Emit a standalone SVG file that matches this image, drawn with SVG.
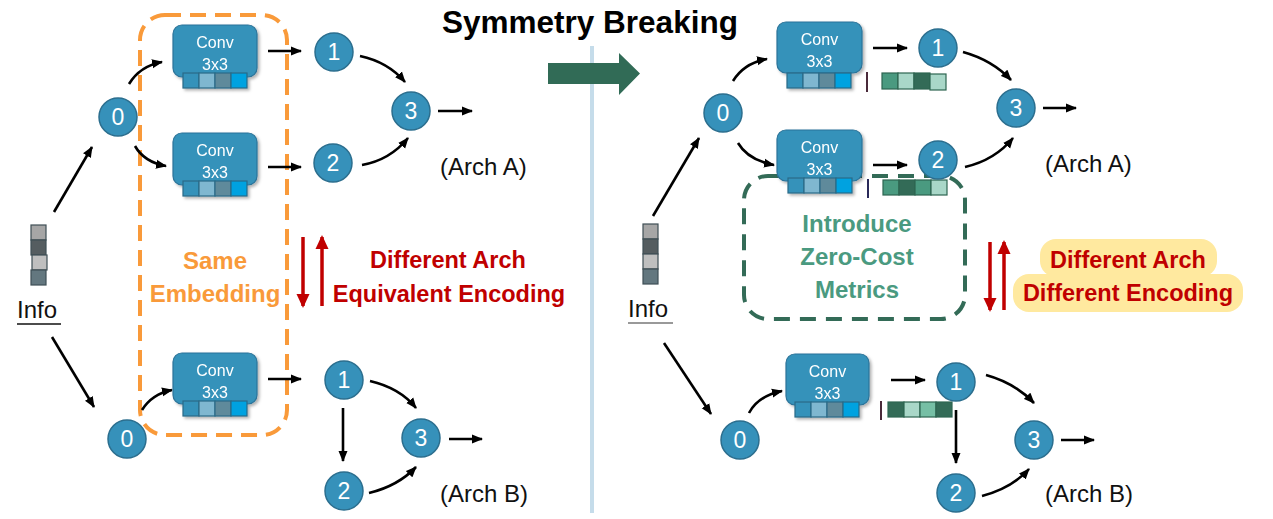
<svg xmlns="http://www.w3.org/2000/svg" width="1273" height="519" viewBox="0 0 1273 519">
<defs>
<style>
.nd{fill:#3691BA;stroke:#2B6E8E;stroke-width:1.5}
.nt{font-family:"Liberation Sans",Arial,sans-serif;font-size:23px;fill:#fff;text-anchor:middle}
.cv{fill:#3592BA;stroke:#2B7399;stroke-width:1.2}
.ct{font-family:"Liberation Sans",Arial,sans-serif;font-size:16px;fill:#fff;text-anchor:middle}
.cell{stroke:#2A6A88;stroke-width:1.2}
.gcell{stroke:#2E6550;stroke-width:1.2}
.icell{stroke:#3F4F55;stroke-width:1.2}
.con{fill:none;stroke:#000;stroke-width:2.6}
.red{fill:none;stroke:#C00000;stroke-width:3.5}
.lbl{font-family:"Liberation Sans",Arial,sans-serif;font-size:24px;fill:#111}
.bold{font-family:"Liberation Sans",Arial,sans-serif;font-weight:bold}
</style>
<marker id="ah" markerUnits="userSpaceOnUse" markerWidth="12" markerHeight="10" refX="10" refY="5" orient="auto">
<path d="M0,0.5 L11,5 L0,9.5 z" fill="#000"/>
</marker>
<marker id="rh" markerUnits="userSpaceOnUse" markerWidth="14" markerHeight="14" refX="12" refY="7" orient="auto">
<path d="M0,0.5 L14,7 L0,13.5 z" fill="#C00000"/>
</marker>
<filter id="sh" x="-20%" y="-20%" width="150%" height="150%">
<feDropShadow dx="2" dy="2" stdDeviation="1.5" flood-color="#000" flood-opacity="0.3"/>
</filter>
</defs>
<rect width="1273" height="519" fill="#fff"/>

<!-- title, divider, big arrow -->
<text x="442" y="33" class="bold" font-size="31.5" fill="#000">Symmetry Breaking</text>
<line x1="592" y1="46" x2="592" y2="513" stroke="#C5DCEA" stroke-width="4"/>
<polygon points="548,63 619,63 619,53 640,73.5 619,95 619,84 548,84" fill="#316B56"/>

<!-- dashed group boxes -->
<rect id="same-embedding-box" x="140" y="15" width="147" height="420" rx="25" fill="none" stroke="#F99A3A" stroke-width="4" stroke-dasharray="16 9"/>
<rect id="zero-cost-box" x="744" y="176" width="221" height="143" rx="24" fill="none" stroke="#336B57" stroke-width="4" stroke-dasharray="16 10"/>

<!-- yellow highlight -->
<rect x="1040" y="239" width="177" height="38" rx="16" fill="#FFE99F"/>
<rect x="1013" y="274" width="230" height="38" rx="16" fill="#FFE99F"/>

<!-- connectors -->
<g id="connectors">
<g class="con" marker-end="url(#ah)">
<line x1="54" y1="212" x2="92" y2="147"/>
<line x1="52" y1="337" x2="94" y2="407"/>
<path d="M129,84 Q140,66 162,62"/>
<path d="M135,146 Q144,162 166,166"/>
<line x1="268" y1="51" x2="301" y2="51"/>
<line x1="268" y1="167" x2="301" y2="167"/>
<path d="M360,56 Q388,62 405,82"/>
<path d="M362,165 Q390,160 408,138"/>
<line x1="438" y1="111" x2="472" y2="111"/>
<path d="M142,410 Q152,394 172,390"/>
<line x1="268" y1="379" x2="301" y2="379"/>
<line x1="343" y1="408" x2="343" y2="461"/>
<path d="M370,381 Q400,388 416,408"/>
<path d="M369,493 Q398,486 416,467"/>
<line x1="449" y1="439" x2="482" y2="439"/>

<line x1="653" y1="216" x2="699" y2="138"/>
<line x1="664" y1="343" x2="711" y2="414"/>
<path d="M733,81 Q744,63 767,59"/>
<path d="M738,143 Q748,160 774,165"/>
<line x1="873" y1="48" x2="907" y2="48"/>
<line x1="873" y1="165" x2="907" y2="165"/>
<path d="M963,52 Q992,60 1011,80"/>
<path d="M965,167 Q995,160 1013,138"/>
<line x1="1043" y1="108" x2="1076" y2="108"/>
<path d="M749,413 Q758,396 782,391"/>
<line x1="891" y1="380" x2="925" y2="380"/>
<line x1="956" y1="410" x2="956" y2="463"/>
<path d="M986,375 Q1015,383 1034,403"/>
<path d="M982,496 Q1012,488 1029,469"/>
<line x1="1061" y1="440" x2="1094" y2="440"/>
</g>
<g class="red" marker-end="url(#rh)">
<line x1="303" y1="237" x2="303" y2="306"/>
<line x1="322" y1="306" x2="322" y2="237"/>
<line x1="990" y1="242" x2="990" y2="310"/>
<line x1="1004" y1="310" x2="1004" y2="242"/>
</g>
</g>

<!-- Info left -->
<g id="info-left">
<rect class="icell" x="31" y="225" width="15" height="15" fill="#A6A6A6"/>
<rect class="icell" x="31" y="240" width="15" height="15" fill="#555D60"/>
<rect class="icell" x="32" y="255" width="15" height="15" fill="#BFBFBF"/>
<rect class="icell" x="31" y="270" width="15" height="15" fill="#63777F"/>
<text x="17" y="318" class="lbl" font-size="25">Info</text>
<line x1="17" y1="324" x2="61" y2="324" stroke="#111" stroke-width="1.5"/>
</g>
<g id="info-right">
<rect class="icell" x="643" y="224" width="15" height="15" fill="#A6A6A6"/>
<rect class="icell" x="643" y="239" width="15" height="15" fill="#555D60"/>
<rect class="icell" x="643" y="254" width="15" height="15" fill="#BFBFBF"/>
<rect class="icell" x="643" y="269" width="15" height="15" fill="#63777F"/>
<text x="628" y="317" class="lbl" font-size="25">Info</text>
<line x1="628" y1="323" x2="673" y2="323" stroke="#777" stroke-width="1.5"/>
</g>

<!-- Conv boxes left -->
<g id="convA1-left" filter="url(#sh)">
<rect class="cv" x="173" y="25" width="84" height="52" rx="9"/>
<text class="ct" x="215" y="48">Conv</text><text class="ct" x="215" y="70">3x3</text>
<rect class="cell" x="183" y="73" width="16" height="15" fill="#3592BA"/>
<rect class="cell" x="199" y="73" width="16" height="15" fill="#7FB7D0"/>
<rect class="cell" x="215" y="73" width="16" height="15" fill="#5F8A9B"/>
<rect class="cell" x="231" y="73" width="16" height="15" fill="#00A2E0"/>
</g>
<g id="convA2-left" filter="url(#sh)">
<rect class="cv" x="173" y="133" width="84" height="52" rx="9"/>
<text class="ct" x="215" y="156">Conv</text><text class="ct" x="215" y="178">3x3</text>
<rect class="cell" x="183" y="181" width="16" height="15" fill="#3592BA"/>
<rect class="cell" x="199" y="181" width="16" height="15" fill="#7FB7D0"/>
<rect class="cell" x="215" y="181" width="16" height="15" fill="#5F8A9B"/>
<rect class="cell" x="231" y="181" width="16" height="15" fill="#00A2E0"/>
</g>
<g id="convB-left" filter="url(#sh)">
<rect class="cv" x="173" y="353" width="84" height="51" rx="9"/>
<text class="ct" x="215" y="376">Conv</text><text class="ct" x="215" y="398">3x3</text>
<rect class="cell" x="183" y="401" width="16" height="15" fill="#3592BA"/>
<rect class="cell" x="199" y="401" width="16" height="15" fill="#7FB7D0"/>
<rect class="cell" x="215" y="401" width="16" height="15" fill="#5F8A9B"/>
<rect class="cell" x="231" y="401" width="16" height="15" fill="#00A2E0"/>
</g>

<!-- Conv boxes right -->
<g id="convA1-right" filter="url(#sh)">
<rect class="cv" x="777" y="22" width="85" height="51" rx="9"/>
<text class="ct" x="819.5" y="45">Conv</text><text class="ct" x="819.5" y="67">3x3</text>
<rect class="cell" x="787" y="73" width="16" height="15" fill="#3592BA"/>
<rect class="cell" x="803" y="73" width="16" height="15" fill="#7FB7D0"/>
<rect class="cell" x="819" y="73" width="16" height="15" fill="#5F8A9B"/>
<rect class="cell" x="835" y="73" width="16" height="15" fill="#00A2E0"/>
</g>
<g id="convA2-right" filter="url(#sh)">
<rect class="cv" x="777" y="130" width="85" height="51" rx="9"/>
<text class="ct" x="819.5" y="153">Conv</text><text class="ct" x="819.5" y="175">3x3</text>
<rect class="cell" x="788" y="178" width="16" height="15" fill="#3592BA"/>
<rect class="cell" x="804" y="178" width="16" height="15" fill="#7FB7D0"/>
<rect class="cell" x="820" y="178" width="16" height="15" fill="#5F8A9B"/>
<rect class="cell" x="836" y="178" width="16" height="15" fill="#00A2E0"/>
</g>
<g id="convB-right" filter="url(#sh)">
<rect class="cv" x="786" y="354" width="83" height="51" rx="9"/>
<text class="ct" x="827.5" y="377">Conv</text><text class="ct" x="827.5" y="399">3x3</text>
<rect class="cell" x="795" y="402" width="16" height="15" fill="#3592BA"/>
<rect class="cell" x="811" y="402" width="16" height="15" fill="#7FB7D0"/>
<rect class="cell" x="827" y="402" width="16" height="15" fill="#5F8A9B"/>
<rect class="cell" x="843" y="402" width="16" height="15" fill="#00A2E0"/>
</g>

<!-- zero-cost metric vectors -->
<g id="zc-A1">
<line x1="867" y1="72" x2="867" y2="92" stroke="#4A2A3A" stroke-width="2"/>
<rect class="gcell" x="882" y="73" width="16" height="16" fill="#4A9A80"/>
<rect class="gcell" x="898" y="73" width="16" height="16" fill="#A9D7C8"/>
<rect class="gcell" x="914" y="73" width="16" height="16" fill="#336B57"/>
<rect class="gcell" x="930" y="74" width="16" height="16" fill="#A9D7C8"/>
</g>
<g id="zc-A2">
<line x1="868" y1="179" x2="868" y2="198" stroke="#2A2A5A" stroke-width="2"/>
<rect class="gcell" x="883" y="180" width="16" height="15" fill="#4A9A80"/>
<rect class="gcell" x="899" y="180" width="16" height="15" fill="#336B57"/>
<rect class="gcell" x="915" y="180" width="16" height="15" fill="#4A9A80"/>
<rect class="gcell" x="931" y="180" width="16" height="15" fill="#A9D7C8"/>
</g>
<g id="zc-B">
<line x1="881" y1="401" x2="881" y2="420" stroke="#4A2A3A" stroke-width="2"/>
<rect class="gcell" x="888" y="402" width="16" height="15" fill="#336B57"/>
<rect class="gcell" x="904" y="402" width="16" height="15" fill="#A9D7C8"/>
<rect class="gcell" x="920" y="402" width="16" height="15" fill="#76BFA5"/>
<rect class="gcell" x="936" y="402" width="16" height="15" fill="#336B57"/>
</g>

<!-- nodes left -->
<g id="L-A-0"><circle class="nd" cx="118" cy="117" r="19"/><text class="nt" x="118" y="125">0</text></g>
<g id="L-A-1"><circle class="nd" cx="334" cy="52" r="19"/><text class="nt" x="334" y="60">1</text></g>
<g id="L-A-2"><circle class="nd" cx="333" cy="163" r="19"/><text class="nt" x="333" y="171">2</text></g>
<g id="L-A-3"><circle class="nd" cx="411" cy="111" r="19"/><text class="nt" x="411" y="119">3</text></g>
<g id="L-B-0"><circle class="nd" cx="127" cy="439" r="19"/><text class="nt" x="127" y="447">0</text></g>
<g id="L-B-1"><circle class="nd" cx="344" cy="380" r="19"/><text class="nt" x="344" y="388">1</text></g>
<g id="L-B-2"><circle class="nd" cx="344" cy="491" r="19"/><text class="nt" x="344" y="499">2</text></g>
<g id="L-B-3"><circle class="nd" cx="421" cy="438" r="19"/><text class="nt" x="421" y="446">3</text></g>

<!-- nodes right -->
<g id="R-A-0"><circle class="nd" cx="723" cy="113" r="19"/><text class="nt" x="723" y="121">0</text></g>
<g id="R-A-1"><circle class="nd" cx="938" cy="48" r="19"/><text class="nt" x="938" y="56">1</text></g>
<g id="R-A-2"><circle class="nd" cx="938" cy="160" r="19"/><text class="nt" x="938" y="168">2</text></g>
<g id="R-A-3"><circle class="nd" cx="1016" cy="108" r="19"/><text class="nt" x="1016" y="116">3</text></g>
<g id="R-B-0"><circle class="nd" cx="740" cy="440" r="19"/><text class="nt" x="740" y="448">0</text></g>
<g id="R-B-1"><circle class="nd" cx="956" cy="382" r="19"/><text class="nt" x="956" y="390">1</text></g>
<g id="R-B-2"><circle class="nd" cx="956" cy="493" r="19"/><text class="nt" x="956" y="501">2</text></g>
<g id="R-B-3"><circle class="nd" cx="1034" cy="440" r="19"/><text class="nt" x="1034" y="448">3</text></g>

<!-- labels -->
<text class="lbl" x="440" y="175">(Arch A)</text>
<text class="lbl" x="440" y="502">(Arch B)</text>
<text class="lbl" x="1045" y="172">(Arch A)</text>
<text class="lbl" x="1045" y="502">(Arch B)</text>

<g class="bold" font-size="24" fill="#F99A3A" text-anchor="middle">
<text x="215" y="269">Same</text>
<text x="215" y="302">Embedding</text>
</g>
<g class="bold" font-size="23.5" fill="#C00000" text-anchor="middle">
<text x="448" y="268">Different Arch</text>
<text x="449" y="302">Equivalent Encoding</text>
<text x="1128" y="268">Different Arch</text>
<text x="1128" y="301">Different Encoding</text>
</g>
<g class="bold" font-size="24" fill="#4A9A80" text-anchor="middle">
<text x="857" y="232">Introduce</text>
<text x="857" y="265">Zero-Cost</text>
<text x="857" y="298">Metrics</text>
</g>
</svg>
